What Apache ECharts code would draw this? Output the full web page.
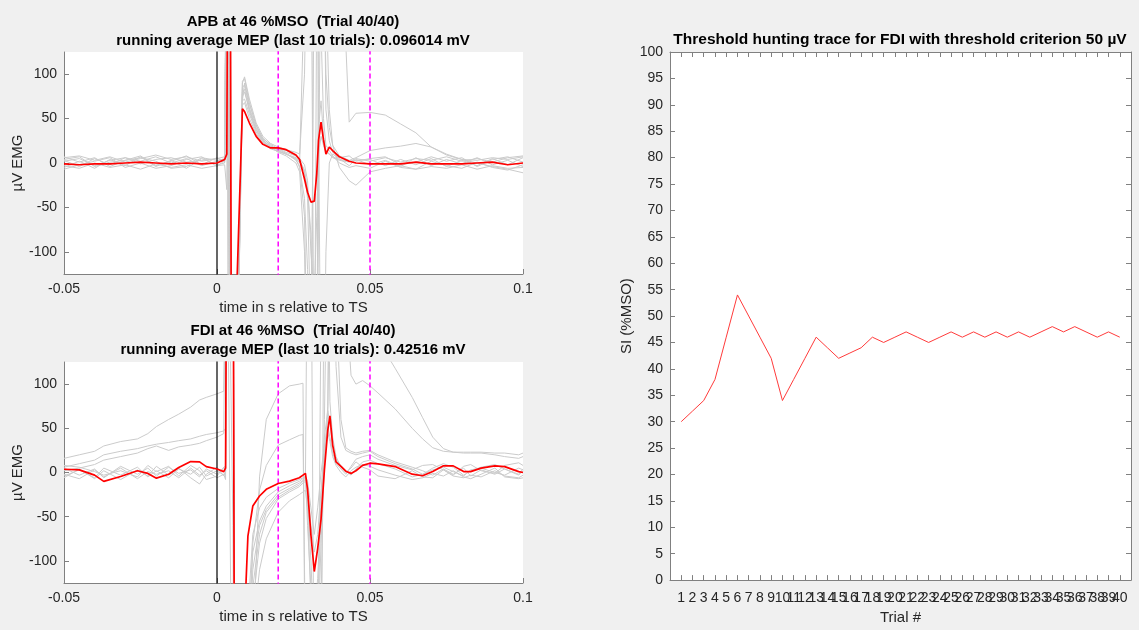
<!DOCTYPE html>
<html>
<head>
<meta charset="utf-8">
<script src="https://cdn.jsdelivr.net/npm/echarts@6/dist/echarts.min.js"></script>
<style>
  html, body { margin: 0; padding: 0; background: #f0f0f0; }
  #chart { width: 1139px; height: 630px; }
</style>
</head>
<body>
<div id="chart"></div>
<script>
// ---- APB panel (top left): time in s, values in uV ----
var tA = [-0.05, -0.045, -0.04, -0.035, -0.03, -0.025, -0.02, -0.015, -0.01, -0.005,
          0, 0.0025, 0.0032, 0.0037, 0.0043, 0.0048, 0.0063, 0.0083, 0.009, 0.0106,
          0.0128, 0.015, 0.0175, 0.02, 0.0226, 0.0258, 0.027, 0.0286, 0.0296, 0.0307,
          0.0318, 0.0326, 0.0332, 0.034, 0.0348, 0.0356, 0.0367, 0.0378, 0.04, 0.0432,
          0.0454, 0.05, 0.055, 0.06, 0.065, 0.07, 0.075, 0.08, 0.085, 0.09,
          0.095, 0.1];
// running average (red)
var apbMean = [-1, -2, -1, -1, 0, 1, 0, -1, 0, -1,
               0, 4, 10, 400, 300, -400, -160, 61, 58, 45,
               30, 21, 17, 17, 15, 9, 4, -18, -33, -44,
               -43, -12, 26, 46, 26, 10, 18, 14, 7, 2,
               0, -1, -1, -1, 1, -1, -1, -1, 0, 1,
               -2, 0];
// single trials (grey)
var apbT1 = [3, -4, 5, -2, 6, 2, 7, 0, 5, -3,
             2, 5, 300, 300, -300, -300, -250, 92, 95, 68,
             42, 28, 20, 14, 10, 5, 0, 200, 300, 300,
             -300, -300, 40, 70, 30, 15, 10, 7, 4, 2,
             3, 4, -3, 4, -2, 5, -4, 3, -3, 5,
             -2, 6];
var apbT2 = [-5, 2, -6, 4, -3, 7, -4, 3, -6, 5,
             -2, 0, 200, 400, -400, -400, -300, 75, 80, 60,
             38, 25, 18, 12, 8, 0, -10, -100, -300, -300,
             300, 300, 300, 300, 300, 300, 300, 300, 300, 46,
             56, 57, 54, 44, 34, 18, 9, 4, 0, -4,
             -7, -11];
var apbT3 = [6, 8, 3, 7, 1, 5, 9, 4, 7, 2,
             5, 7, 400, 400, 400, -400, -200, 70, 72, 55,
             35, 24, 16, 13, 10, 4, -5, -40, -120, -300,
             -300, 200, 300, 300, 250, 100, 40, 20, 8, 3,
             6, 14, 17, 19, 22, 18, 10, 4, 3, 6,
             4, 7];
var apbT4 = [-3, -6, 0, -5, -2, -7, -1, -5, -2, -6,
             -3, -2, -30, 300, -300, -300, -300, 85, 88, 62,
             40, 26, 18, 13, 10, 6, 2, -10, -40, -200,
             -300, -300, 200, 300, 300, 200, 60, 20, -5, -20,
             -25, -10, -6, -3, -7, -4, -6, -2, -7, -3,
             -6, -5];
var apbT5 = [2, 5, -3, 3, 6, -1, 4, 6, 1, 3,
             5, 3, 300, 300, -300, -300, -200, 65, 68, 50,
             33, 23, 18, 16, 14, 8, 5, -2, -20, -100,
             -150, -60, 10, 30, 20, 12, 10, 6, 3, 1,
             5, 2, 6, 1, 5, 3, 7, 2, 5, 1,
             6, 8];
var apbT6 = [7, 1, 6, -4, 3, 8, -3, 2, 8, -2,
             6, 1, 300, -300, -300, -300, -250, 90, 97, 72,
             45, 30, 22, 18, 15, 12, 10, 100, 300, 300,
             300, 300, 300, -300, -300, -100, 0, 10, 5, -3,
             4, -2, 3, -4, 6, -3, 4, -1, 6, -2,
             3, -4];
var apbT7 = [-7, -2, 2, 6, -5, 0, -6, -3, 4, 7,
             -4, 3, 300, 300, -300, -300, -300, 80, 83, 58,
             37, 25, 19, 15, 11, 3, -3, -60, -250, -300,
             300, 300, 300, 150, 50, 20, 14, 8, 0, -5,
             -3, -6, 2, -5, -7, 2, -3, -6, 1, -5,
             -8, -2];
var apbT8 = [4, 7, -4, 1, 3, 6, 2, -6, -4, 6,
             3, 1, 300, 300, 300, -300, -300, 70, 90, 66,
             43, 27, 21, 16, 12, 8, 3, -8, -30, -80,
             -300, -300, -300, 300, 300, 60, 25, 12, 6, 8,
             2, 5, 7, -2, 1, 7, 2, 6, -4, 4,
             7, 1];

// ---- FDI panel (bottom left) ----
var tF = [-0.05, -0.045, -0.04, -0.037, -0.0315, -0.026, -0.0226, -0.0198, -0.0158, -0.0125,
          -0.0086, -0.0057, -0.0035, 0, 0.0022, 0.0028, 0.0033, 0.0052, 0.0058, 0.0093,
          0.0101, 0.0117, 0.0139, 0.0161, 0.02, 0.0237, 0.0269, 0.0281, 0.0289, 0.0296,
          0.0307, 0.0318, 0.0329, 0.034, 0.0351, 0.0362, 0.0369, 0.0378, 0.0389, 0.0405,
          0.0421, 0.0438, 0.0454, 0.0476, 0.05, 0.0526, 0.0582, 0.0638, 0.0672, 0.0705,
          0.074, 0.0772, 0.0806, 0.0829, 0.0863, 0.0908, 0.094, 0.0986, 0.1];
var fdiMean = [3.7, 3, -3, -10, -4.5, 2, -1, -6.4, -2, 5.6,
               12.4, 12, 6.7, 4, 1, 5, 400, 400, -400, -140,
               -72, -38, -26.6, -19, -12.4, -9.7, -6, -3, -1, -19,
               -71, -112, -86, -53, 3, 48, 64, 31, 12, 7,
               1.5, -1, 2, 8, 10.5, 9.7, 6.7, -1.9, -3.7, 1.1,
               7.5, 7.5, 1, 1, 4.9, 7.5, 6.7, 1, 0];
var fdiT1 = [16, 20, 24, 30, 35, 38, 44, 52, 60, 66,
             74, 82, 85, 89, 92, 94, 400, 400, -400, -400,
             -300, -180, -110, -75, -45, -32, -25, -22, -20, -40,
             -150, -300, -300, -150, 60, 300, 300, 300, 300, 300,
             200, 110, 100, 104, 98, 90, 72, 50, 38, 28,
             24, 23, 23, 23, 23, 22, 22, 20, 22];
var fdiT2 = [6, 10, 14, 20, 24, 27, 30, 32, 34, 36,
             38, 41, 43, 45, 47, 50, 400, 400, -400, -300,
             -200, -80, -20, 8, 31, 37, 42, 43, -200, -300,
             -300, -300, -200, -80, 10, 75, 300, 300, 300, 300,
             300, 300, 300, 300, 300, 150, 118, 85, 62, 40,
             27, 23, 22, 22, 22, 20, 18, 16, 18];
var fdiT3 = [-4, 3, -6, 5, -3, 6, -5, 2, -6, 4,
             -2, 6, -4, 2, -3, 2, 400, -60, -400, -400,
             -400, -200, -5, 60, 89, 98, 100, 101, -300, -400,
             -400, -300, -300, 200, 300, 300, 300, 300, 200, 60,
             28, 24, 22, 24, 25, 20, 12, 6, 2, -3,
             4, -2, 5, -4, 3, -2, 4, -3, 2];
var fdiT4 = [5, -3, 4, -6, 7, -2, 5, -4, 6, -1,
             3, -5, 4, -2, 5, 8, 400, 400, -400, -400,
             -200, -90, -55, -38, -22, -15, -10, -7, -5, -60,
             -130, -160, -120, -30, 40, 70, 55, 30, 15, 8,
             2, -3, 4, 12, 14, 10, 4, -5, -2, 5,
             10, 6, -3, 2, 6, 9, 4, -2, 4];
var fdiT5 = [-6, 4, -7, 2, -8, 3, -4, 7, -3, 5,
             -6, -13, -2, 6, -4, 0, 300, -400, -400, -400,
             -300, -130, -70, -45, -28, -20, -14, -10, -8, 300,
             300, -300, -300, -300, 300, 300, 80, 40, 18, 6,
             0, 5, 12, 6, 3, -4, -7, 2, -5, -6,
             3, -4, -6, -3, -5, 2, -4, -6, -3];
var fdiT6 = [8, 6, 1, -3, 2, -5, 8, 1, 7, -4,
             8, 2, -8, -4, 6, 3, 400, 400, -400, -300,
             -160, -70, -40, -28, -18, -12, -8, -6, -4, -10,
             -40, -70, -40, 0, 30, 52, 40, 22, 10, 4,
             -2, 7, 15, 18, 20, 15, 8, 3, 8, 9,
             3, -3, 7, 9, 2, -1, 8, 11, 8];
var fdiT7 = [2, 5, 9, 14, 18, 22, 27, 30, 25, 29,
             31, 33, 36, 40, 44, 46, 400, 400, -400, -400,
             -300, -150, -80, -52, -30, -22, -16, -12, -10, -30,
             -100, -200, -150, -50, 20, 60, 300, 300, 120, 40,
             25, 22, 20, 22, 24, 18, 10, 4, -2, 3,
             6, 1, -4, 3, 5, 0, -3, 5, 3];
var fdiT8 = [-2, -7, 3, -5, 5, -7, 1, -2, 2, -6,
             5, -3, 2, -6, -2, -8, 300, 300, -300, -400,
             -250, -110, -60, -42, -25, -18, -12, -9, -6, -20,
             -60, -90, -70, -20, 20, 45, 35, 18, 8, 0,
             -5, 2, 6, 9, 7, 3, -3, -8, -6, -1,
             -4, 2, -5, -7, -2, 5, -5, -7, -6];

// ---- threshold hunting (right) ----
var trials = [];
for (var k = 1; k <= 40; k++) trials.push(k);
var siValues = [30, 32, 34, 38, 46, 54, 50, 46, 42, 34,
                38, 42, 46, 44, 42, 43, 44, 46, 45, 46,
                47, 46, 45, 46, 47, 46, 47, 46, 47, 46,
                47, 46, 47, 48, 47, 48, 47, 46, 47, 46];

var emgTicks = [-100, -50, 0, 50, 100];
var markerTimes = [0.02, 0.05];

var font = "'Liberation Sans', Arial, sans-serif";
var axisCol = '#808080';
var textCol = '#262626';

function pairs(t, v) {
    return t.map(function (x, i) { return [x, v[i]]; });
}

function greyLine(x, y, t, v) {
    return {
        type: 'line', xAxisIndex: x, yAxisIndex: y, data: pairs(t, v),
        showSymbol: false, silent: true, animation: false,
        lineStyle: {color: '#cbcbcb', width: 1}, z: 2
    };
}

function vLine(x, y, t, color, dashed) {
    return {
        type: 'line', xAxisIndex: x, yAxisIndex: y, data: [[t, -130], [t, 130]],
        showSymbol: false, silent: true, animation: false,
        lineStyle: {color: color, width: dashed ? 1.5 : 1.2, type: dashed ? [5, 3] : 'solid'}, z: 3
    };
}

function timeAxis(grid) {
    return {
        type: 'value', gridIndex: grid, min: -0.05, max: 0.1, interval: 0.05,
        name: 'time in s relative to TS', nameLocation: 'middle', nameGap: 26,
        nameTextStyle: {fontFamily: font, fontSize: 15, color: textCol},
        axisLine: {show: true, onZero: false, lineStyle: {color: axisCol}},
        axisTick: {show: true, inside: true, length: 5, lineStyle: {color: axisCol}},
        axisLabel: {
            fontFamily: font, fontSize: 14, color: textCol, margin: 8,
            formatter: function (v) { return String(Math.round(v * 100) / 100); }
        },
        splitLine: {show: false}
    };
}

function emgAxis(grid) {
    return {
        type: 'value', gridIndex: grid, min: -125, max: 125,
        name: 'µV EMG', nameLocation: 'middle', nameGap: 37,
        nameTextStyle: {fontFamily: font, fontSize: 15, color: textCol},
        axisLine: {show: true, onZero: false, lineStyle: {color: axisCol}},
        axisTick: {show: true, inside: true, length: 5, customValues: emgTicks, lineStyle: {color: axisCol}},
        axisLabel: {fontFamily: font, fontSize: 14, color: textCol, margin: 7, customValues: emgTicks},
        splitLine: {show: false}
    };
}

function titleLine(text, cx, top, size) {
    return {
        text: text, left: cx, top: top, textAlign: 'center', padding: 0,
        textStyle: {fontFamily: font, fontSize: size, fontWeight: 'bold', color: '#000', lineHeight: size}
    };
}

var chart = echarts.init(document.getElementById('chart'), null, {renderer: 'canvas'});

var series = [];
[apbT1, apbT2, apbT3, apbT4, apbT5, apbT6, apbT7, apbT8].forEach(function (v) {
    series.push(greyLine(0, 0, tA, v));
});
[fdiT1, fdiT2, fdiT3, fdiT4, fdiT5, fdiT6, fdiT7, fdiT8].forEach(function (v) {
    series.push(greyLine(1, 1, tF, v));
});
[0, 1].forEach(function (g) {
    series.push(vLine(g, g, 0, '#000000', false));
    markerTimes.forEach(function (m) {
        series.push(vLine(g, g, m, '#ff00ff', true));
    });
});
series.push({
    type: 'line', xAxisIndex: 0, yAxisIndex: 0, data: pairs(tA, apbMean),
    showSymbol: false, silent: true, animation: false,
    lineStyle: {color: '#ff0000', width: 1.7}, z: 4
});
series.push({
    type: 'line', xAxisIndex: 1, yAxisIndex: 1, data: pairs(tF, fdiMean),
    showSymbol: false, silent: true, animation: false,
    lineStyle: {color: '#ff0000', width: 1.7}, z: 4
});
series.push({
    type: 'line', xAxisIndex: 2, yAxisIndex: 2, data: pairs(trials, siValues),
    showSymbol: false, silent: true, animation: false,
    lineStyle: {color: '#ff3b3b', width: 1}, z: 4
});

var option = {
    backgroundColor: '#f0f0f0',
    animation: false,
    title: [
        titleLine('APB at 46 %MSO  (Trial 40/40)', 293, 14, 15),
        titleLine('running average MEP (last 10 trials): 0.096014 mV', 293, 33.5, 15),
        titleLine('FDI at 46 %MSO  (Trial 40/40)', 293, 323.5, 15),
        titleLine('running average MEP (last 10 trials): 0.42516 mV', 293, 342.5, 15),
        titleLine('Threshold hunting trace for FDI with threshold criterion 50 µV', 900, 32, 15.5)
    ],
    grid: [
        {left: 64, top: 52, width: 459, height: 222, show: true, backgroundColor: '#fff', borderWidth: 0},
        {left: 64, top: 362, width: 459, height: 221, show: true, backgroundColor: '#fff', borderWidth: 0},
        {left: 670, top: 52, width: 461, height: 531, show: true, backgroundColor: '#fff', borderWidth: 0}
    ],
    xAxis: [
        timeAxis(0),
        timeAxis(1),
        {
            type: 'value', gridIndex: 2, min: 0, max: 41, interval: 1,
            name: 'Trial #', nameLocation: 'middle', nameGap: 29,
            nameTextStyle: {fontFamily: font, fontSize: 15, color: textCol},
            axisLine: {show: true, onZero: false, lineStyle: {color: axisCol}},
            axisTick: {show: true, inside: true, length: 5, lineStyle: {color: axisCol}},
            axisLabel: {
                fontFamily: font, fontSize: 14, color: textCol, margin: 11,
                formatter: function (v) { return (v >= 1 && v <= 40) ? String(v) : ''; }
            },
            splitLine: {show: false}
        },
        {
            type: 'value', gridIndex: 2, min: 0, max: 41, interval: 1, position: 'top',
            axisLine: {show: true, onZero: false, lineStyle: {color: axisCol}},
            axisTick: {show: true, inside: true, length: 5, lineStyle: {color: axisCol}},
            axisLabel: {show: false}, splitLine: {show: false}
        }
    ],
    yAxis: [
        emgAxis(0),
        emgAxis(1),
        {
            type: 'value', gridIndex: 2, min: 0, max: 100, interval: 5,
            name: 'SI (%MSO)', nameLocation: 'middle', nameGap: 36,
            nameTextStyle: {fontFamily: font, fontSize: 15, color: textCol},
            axisLine: {show: true, onZero: false, lineStyle: {color: axisCol}},
            axisTick: {show: true, inside: true, length: 5, lineStyle: {color: axisCol}},
            axisLabel: {fontFamily: font, fontSize: 14, color: textCol, margin: 7},
            splitLine: {show: false}
        },
        {
            type: 'value', gridIndex: 2, min: 0, max: 100, interval: 5, position: 'right',
            axisLine: {show: true, onZero: false, lineStyle: {color: axisCol}},
            axisTick: {show: true, inside: true, length: 5, lineStyle: {color: axisCol}},
            axisLabel: {show: false}, splitLine: {show: false}
        }
    ],
    series: series
};

chart.setOption(option);
</script>
</body>
</html>
